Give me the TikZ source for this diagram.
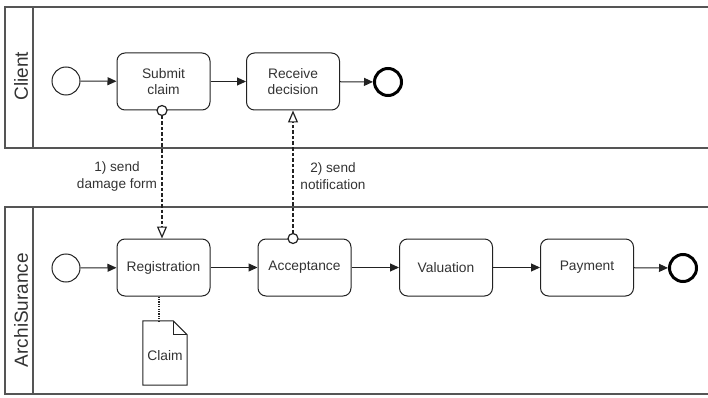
\documentclass[tikz,border=0pt]{standalone}
\usepackage{fontspec}
\setmainfont{Liberation Sans}
\usetikzlibrary{arrows.meta,calc}
\definecolor{poolline}{HTML}{555555}
\definecolor{ink}{HTML}{222222}
\definecolor{txt}{HTML}{333333}
\tikzset{
  pool/.style={draw=poolline, line width=1.3pt},
  lanelabel/.style={rotate=90, text=txt, font=\fontsize{19}{22}\selectfont},
  task/.style={draw=ink, line width=1pt, rounded corners=8pt, fill=white,
    minimum width=93pt, minimum height=57pt, align=center, text=txt,
    inner sep=0pt, font=\fontsize{13.8}{16.5}\selectfont},
  startev/.style={circle, draw=ink, line width=1pt, minimum size=28pt, inner sep=0pt},
  endev/.style={circle, draw=black, line width=3pt, minimum size=27pt, inner sep=0pt},
  seqflow/.style={draw=ink, line width=1pt, -{Triangle[length=9pt,width=8pt]}},
  msgflow/.style={draw=ink, line width=1.5pt, dash pattern=on 3.5pt off 2pt,
    -{Triangle[open,length=12pt,width=10pt,fill=white,line width=1.2pt]}},
  msgsrc/.style={draw=ink, line width=1.2pt, fill=white},
  msglabel/.style={align=center, text=txt, font=\fontsize{13.6}{17}\selectfont},
  assoc/.style={draw=ink, line width=1.7pt, dash pattern=on 1.2pt off 1.2pt},
  docbox/.style={minimum width=44pt, minimum height=64pt, inner sep=0pt,
    text=txt, font=\fontsize{13.8}{16.5}\selectfont},
}
\begin{document}
\begin{tikzpicture}[x=1pt,y=-1pt]
\useasboundingbox (0,0) rectangle (708,398);

% pools with their lane headers
\draw[pool] (5,7) rectangle (714,148);
\draw[pool] (33,7) -- (33,148);
\draw[pool] (5,207) rectangle (714,394);
\draw[pool] (33,207) -- (33,394);
\node[lanelabel] (clientlbl) at (21,76) {Client};
\node[lanelabel] (archilbl) at (21,310) {ArchiSurance};

% client process
\node[startev] (cstart) at (66,81) {};
\node[task] (submit) at (163.5,81.5) {Submit\\claim};
\node[task] (receive) at (293,81.5) {Receive\\decision};
\node[endev] (cend) at (388,82) {};

% insurer process
\node[startev] (astart) at (66,268) {};
\node[task] (reg) at (163.5,267.5) {Registration};
\node[task] (acc) at (304.5,267.5) {Acceptance};
\node[task] (val) at (446,267.5) {Valuation};
\node[task] (pay) at (587,267.5) {Payment};
\node[endev] (aend) at (683,268) {};

% claim document
\node[docbox] (claim) at (165,353) {};
\draw[ink, line width=1pt, fill=white]
  (claim.north west) -- ([xshift=-14pt]claim.north east)
  -- ([yshift=-14pt]claim.north east) -- (claim.south east)
  -- (claim.south west) -- cycle;
\draw[ink, line width=1pt]
  ([xshift=-14pt]claim.north east) -- ([xshift=-14pt,yshift=-14pt]claim.north east)
  -- ([yshift=-14pt]claim.north east);
\node[text=txt, font=\fontsize{13.8}{16.5}\selectfont] (claimtxt) at ([yshift=-3pt]claim.center) {Claim};

% sequence flows
\draw[seqflow] (cstart) -- (submit);
\draw[seqflow] (submit) -- (receive);
\draw[seqflow] (receive) -- (cend);
\draw[seqflow] (astart) -- (reg);
\draw[seqflow] (reg) -- (acc);
\draw[seqflow] (acc) -- (val);
\draw[seqflow] (val) -- (pay);
\draw[seqflow] (pay) -- (aend);

% message flows
\coordinate (m1) at ([xshift=-1.5pt]submit.south);
\draw[msgflow] (m1) -- (m1 |- reg.north);
\draw[msgsrc] (m1) circle (5pt);
\coordinate (m2) at (receive.south |- acc.north);
\draw[msgflow] (m2) -- (receive.south);
\draw[msgsrc] (m2) circle (5pt);
\node[msglabel] (lbl1) at (117,176) {1) send\\damage form};
\node[msglabel] (lbl2) at (333,176) {2) send\\notification};

% association to the document
\coordinate (ra) at ([xshift=-4.5pt]reg.south);
\draw[assoc] (ra) -- (ra |- claim.north);
\end{tikzpicture}
\end{document}
